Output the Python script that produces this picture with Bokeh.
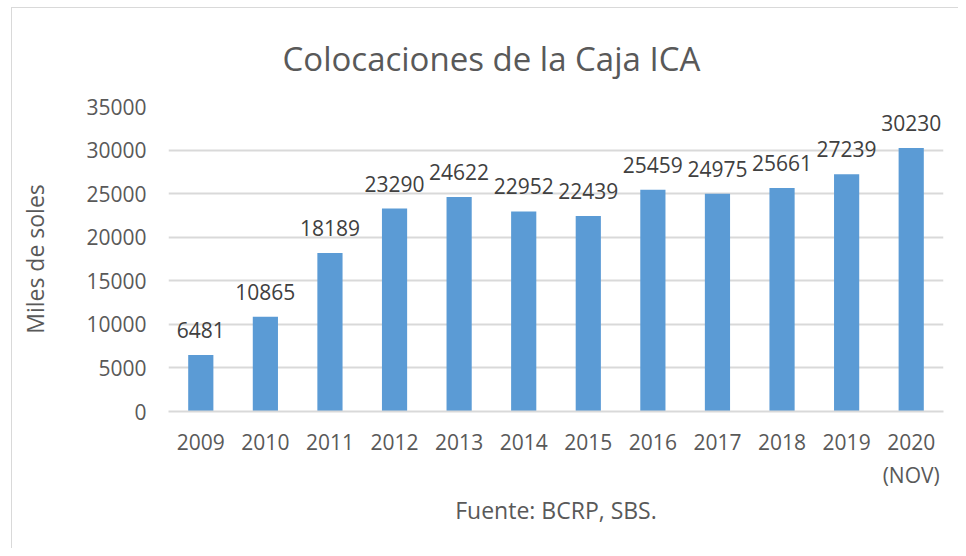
from bokeh.plotting import figure
from bokeh.models import ColumnDataSource, FixedTicker, LabelSet, FactorRange, Range1d
from bokeh.core.properties import value
from bokeh.embed import file_html
from bokeh.resources import INLINE

years = ["2009", "2010", "2011", "2012", "2013", "2014", "2015", "2016", "2017", "2018", "2019", "2020\n(NOV)"]
values = [6481, 10865, 18189, 23290, 24622, 22952, 22439, 25459, 24975, 25661, 27239, 30230]
y_ticks = [0, 5000, 10000, 15000, 20000, 25000, 30000, 35000]

FONT = "Open Sans"
TXT = "#595959"

src = ColumnDataSource(dict(x=years, top=values, lbl=[str(v) for v in values]))

p = figure(x_range=FactorRange(*years, range_padding=0), y_range=Range1d(0, 35000),
           width=947, height=541, output_backend="svg", toolbar_location=None,
           title="Colocaciones de la Caja ICA",
           min_border_left=156, min_border_right=16, min_border_top=98, min_border_bottom=138)
p.styles = {"border-left": "1px solid #d9d9d9", "border-top": "1px solid #d9d9d9",
            "margin-left": "11px", "margin-top": "7px"}
p.outline_line_color = None
p.background_fill_color = "white"
p.border_fill_color = "white"

p.vbar(x="x", top="top", width=0.39, source=src, fill_color="#5B9BD5", line_color=None)

labels = LabelSet(x="x", y="top", text="lbl", source=src, text_align="center",
                  text_baseline="bottom", y_offset=17, text_font=value(FONT),
                  text_font_size="21px", text_color="#404040")
p.add_layout(labels)

p.title.text_font = FONT
p.title.text_font_size = "33px"
p.title.text_font_style = "normal"
p.title.text_color = TXT
p.title.align = "left"
p.title.offset = 114
p.title.standoff = 51

p.yaxis.ticker = FixedTicker(ticks=y_ticks)
p.yaxis.axis_line_color = None
p.yaxis.major_tick_line_color = None
p.yaxis.minor_tick_line_color = None
p.yaxis.major_label_standoff = 16
p.yaxis.major_label_text_font = FONT
p.yaxis.major_label_text_font_size = "21px"
p.yaxis.major_label_text_color = TXT
p.yaxis.axis_label = "Miles de soles"
p.yaxis.axis_label_text_font = FONT
p.yaxis.axis_label_text_font_size = "23px"
p.yaxis.axis_label_text_font_style = "normal"
p.yaxis.axis_label_text_color = TXT
p.yaxis.axis_label_standoff = 32

p.xaxis.axis_line_color = "#d9d9d9"
p.xaxis.axis_line_width = 2
p.xaxis.major_tick_line_color = None
p.xaxis.minor_tick_line_color = None
p.xaxis.major_label_standoff = 10
p.xaxis.major_label_text_font = FONT
p.xaxis.major_label_text_font_size = "21px"
p.xaxis.major_label_text_color = TXT
p.xaxis.axis_label = "Fuente: BCRP, SBS."
p.xaxis.axis_label_text_font = FONT
p.xaxis.axis_label_text_font_size = "23px"
p.xaxis.axis_label_text_font_style = "normal"
p.xaxis.axis_label_text_color = TXT
p.xaxis.axis_label_standoff = 2

p.xgrid.grid_line_color = None
p.ygrid.grid_line_color = "#d9d9d9"
p.ygrid.grid_line_width = 2

open("out.html", "w").write(file_html(p, INLINE))
